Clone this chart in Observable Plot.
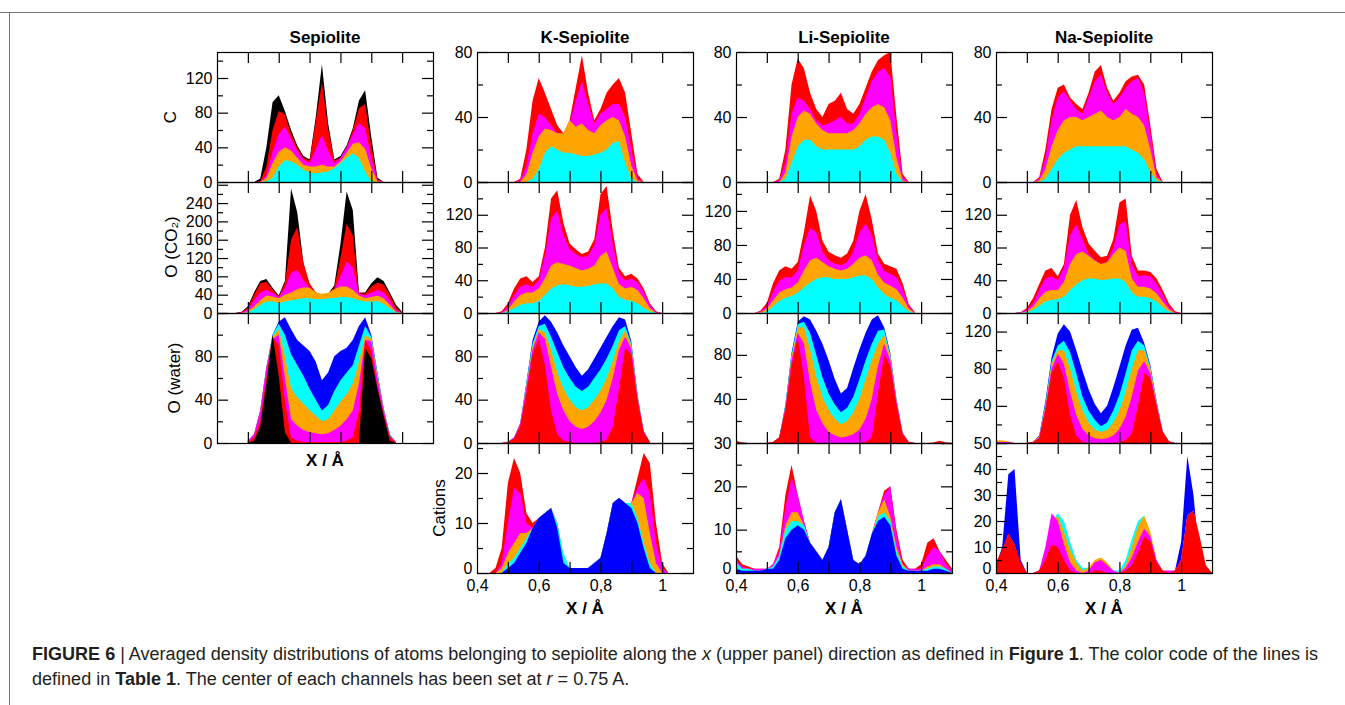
<!DOCTYPE html>
<html><head><meta charset="utf-8">
<script src="https://cdn.jsdelivr.net/npm/d3@7"></script>
<script src="https://cdn.jsdelivr.net/npm/@observablehq/plot@0.6"></script>
<style>
body{margin:0;background:#fff;font-family:"Liberation Sans",Arial,Helvetica,sans-serif;}
#fig{position:relative;width:1345px;height:705px;overflow:hidden;background:#fff;}
.t{position:absolute;white-space:nowrap;color:#000;}
.title{font-weight:bold;font-size:17px;transform:translate(-50%,-50%);}
.ylab{font-size:17px;transform:translate(-50%,-50%) rotate(-90deg);}
.xlab{font-weight:bold;font-size:17px;transform:translate(-50%,-50%);}
.cap{position:absolute;white-space:nowrap;font-size:18px;color:#231f20;transform-origin:0 50%;font-family:"Liberation Sans Narrow","Liberation Sans",Arial,sans-serif;}
#frameTop{position:absolute;left:0;top:12px;width:1345px;height:0;border-top:1px solid #777;}
#frameLeft{position:absolute;left:9px;top:12px;width:0;height:700px;border-left:1px solid #777;}
</style></head><body><div id="fig"><div id="frameTop"></div><div id="frameLeft"></div></div>
<script>
// ---------- shared grid and labels ----------
const xs = [0.40,0.42,0.44,0.46,0.48,0.50,0.52,0.54,0.56,0.58,0.60,0.62,0.64,0.66,0.68,0.70,0.72,0.74,0.76,0.78,0.80,0.82,0.84,0.86,0.88,0.90,0.92,0.94,0.96,0.98,1.00,1.02,1.04,1.06,1.08,1.10];
const colors = {black:"#000000", red:"#ff0000", magenta:"#ff00ff", orange:"#ffa500", cyan:"#00ffff", blue:"#0000ff"};
const columnTitles = ["Sepiolite","K-Sepiolite","Li-Sepiolite","Na-Sepiolite"];
const rowLabels = ["C","O (CO\u2082)","O (water)","Cations"];
const xTicks = [0.4,0.6,0.8,1.0];
const xTickLabels = ["0,4","0,6","0,8","1"];
const xMinorTicks = [0.5,0.6,0.7,0.8,0.9,1.0];
const xTitle = "X / \u00c5";

// ---------- Sepiolite ----------
// C, values from x = 0.52
const sepC_black   = [0,4,40,92,100,82,60,42,30,26,75,136,68,26,30,42,62,94,106,52,5,0];
const sepC_red     = [0,1,18,60,82,78,56,40,28,25,70,115,62,25,28,40,60,85,90,42,3,0];
const sepC_magenta = [0,0,8,35,55,64,50,36,26,22,38,54,36,22,28,40,55,68,62,28,2,0];
const sepC_orange  = [0,0,5,22,35,40,36,28,20,18,18,20,18,18,24,34,44,46,38,16,1,0];
const sepC_cyan    = [0,0,1,5,18,25,24,20,14,11,10,11,12,16,22,28,33,28,12,1,0,0];
// O (CO2), values from x = 0.46
const sepO_black   = [0,3,15,45,70,74,55,38,70,272,220,110,55,45,40,42,60,150,265,225,45,45,65,78,70,45,18,2];
const sepO_red     = [0,2,12,40,65,68,52,36,66,160,188,110,65,45,40,42,55,120,195,170,44,42,58,66,62,40,12,0];
const sepO_magenta = [0,1,8,28,45,50,44,35,55,88,94,72,55,42,40,42,50,80,112,100,42,38,45,50,45,28,6,0];
const sepO_orange  = [0,0,4,15,28,38,36,32,40,45,52,56,55,45,42,44,52,58,58,50,38,32,35,38,32,18,3,0];
const sepO_cyan    = [0,0,1,8,18,25,25,22,25,28,30,32,32,30,30,32,33,35,35,32,28,25,25,26,20,10,1,0];
// O (water), values from x = 0.50
const sepW_blue    = [2,8,30,70,100,112,116,105,95,90,85,75,58,65,80,85,88,95,108,116,100,65,32,8,1];
const sepW_cyan    = [2,8,30,70,100,110,100,82,72,62,50,40,30,35,48,58,65,72,90,108,98,64,32,8,1];
const sepW_orange  = [2,8,30,70,98,105,80,50,42,36,30,25,20,22,30,38,45,55,75,100,96,62,31,7,1];
const sepW_magenta = [2,8,30,70,96,100,60,22,16,12,10,9,8,9,12,16,22,30,55,95,94,60,31,7,1];
const sepW_red     = [1,5,20,60,98,90,40,5,2,1,1,1,1,1,1,1,2,5,30,95,85,52,27,6,0];
const sepW_black   = [0,2,15,55,100,62,10,0,0,0,0,0,0,0,0,0,0,0,0,88,78,50,25,2,0];

// ---------- K-Sepiolite ----------
// C, from x = 0.52
const kC_red     = [0,2,20,50,64,55,45,35,30,38,58,78,55,38,45,55,60,64,55,30,5,0];
const kC_magenta = [0,1,10,30,42,40,35,30,30,36,50,62,48,36,42,45,48,48,40,20,2,0];
const kC_orange  = [0,0,5,18,28,33,32,30,30,38,34,36,32,30,35,38,40,38,28,10,1,0];
const kC_cyan    = [0,0,0,2,8,18,22,20,18,18,17,16,16,17,18,20,24,25,12,2,0,0];
// O (CO2), from x = 0.46
const kO_red     = [0,2,12,30,42,45,38,45,80,140,150,110,85,78,72,75,90,145,155,100,55,45,48,42,30,12,2,0];
const kO_magenta = [0,1,8,22,32,35,32,40,70,115,125,95,78,72,68,70,82,120,128,85,48,40,42,38,26,10,1,0];
const kO_orange  = [0,0,4,14,22,25,25,30,42,58,62,60,58,55,52,54,58,70,75,55,35,30,32,28,18,6,0,0];
const kO_cyan    = [0,0,2,6,10,12,12,15,22,30,34,35,34,32,32,33,35,36,36,30,20,16,15,12,6,2,0,0];
// O (water), from x = 0.48
const kW_blue    = [0,1,5,18,56,95,112,118,112,102,90,80,70,62,68,78,88,98,108,116,114,94,45,11,1];
const kW_cyan    = [0,1,5,18,55,92,108,110,98,84,70,60,52,48,52,60,68,78,90,104,108,92,44,11,1];
const kW_orange  = [0,1,5,18,53,89,105,102,86,65,50,40,33,30,33,40,48,60,76,94,104,90,43,11,1];
const kW_magenta = [0,1,5,18,51,86,102,96,70,45,30,20,15,13,15,20,28,40,60,86,98,87,42,11,1];
const kW_red     = [0,1,4,15,46,82,96,72,30,8,2,1,0,0,0,0,1,3,15,50,88,82,40,10,1];
// Cations, from x = 0.44
const kK_red     = [0,1,5,18,23,20,12,10,11,12,13,10,3,1,1,1,1,2,3,8,14,15,14,14,19,24,22,10,2,0];
const kK_magenta = [0,0,2,10,17,16,10,9,11,12,13,10,3,1,1,1,1,2,3,8,14,15,14,14,17,19,16,6,1,0];
const kK_orange  = [0,0,1,4,6,8,8,9,11,12,13,10,3,1,1,1,1,2,3,8,14,15,14,14,16,15,8,2,0,0];
const kK_cyan    = [0,0,0,2,3,5,7,9,11,12,13,10,4,1,1,1,1,2,3,8,14,15,14,14,11,6,2,0,0,0];
const kK_blue    = [0,0,0,1,2,4,6,9,11,12,13,9,2,1,1,1,1,2,3,8,14,15,14,13,10,5,1,0,0,0];

// ---------- Li-Sepiolite ----------
// C, from x = 0.52
const liC_red     = [0,2,20,60,76,70,55,45,40,48,50,55,45,42,48,58,68,75,78,80,40,5,0];
const liC_magenta = [0,1,12,42,52,50,45,38,35,36,38,40,36,36,42,52,62,68,70,65,30,3,0];
const liC_orange  = [0,0,6,28,40,44,42,36,32,30,30,30,30,32,36,42,46,48,46,38,15,1,0];
const liC_cyan    = [0,0,2,12,22,26,26,22,20,20,20,20,20,20,22,26,28,28,26,18,5,0,0];
// O (CO2), from x = 0.46
const liO_red     = [0,3,12,35,50,55,52,60,95,138,120,85,72,68,65,70,85,120,140,110,70,58,55,52,35,10,1];
const liO_magenta = [0,2,8,25,38,42,42,50,80,100,95,72,62,58,56,60,72,95,105,92,62,50,46,42,28,8,0];
const liO_orange  = [0,1,5,15,24,28,30,36,50,62,65,60,55,52,50,52,58,65,68,62,45,36,32,28,18,5,0];
const liO_cyan    = [0,0,2,8,14,18,20,24,30,36,40,42,42,40,40,40,42,44,44,40,30,22,18,15,8,2,0];
// O (water): red from x = 0.40, others from x = 0.50
const liW_red     = [2,0.5,0,0,0,0,1,5,30,70,96,60,5,0,0,0,0,0,0,0,0,1,5,45,80,70,35,8,1,0,0,0,0.5,2,0.5,0];
const liW_magenta = [0,1,5,32,75,100,90,55,30,18,10,7,5,6,8,12,22,40,70,90,75,38,9,1,0];
const liW_orange  = [0,1,5,33,78,105,105,85,60,42,30,22,17,20,28,40,58,75,90,98,78,39,9,1,0];
const liW_cyan    = [0,1,5,34,80,108,110,100,80,60,45,35,28,32,42,58,75,90,102,103,80,40,9,1,0];
const liW_blue    = [0,1,5,35,82,110,115,112,102,90,75,58,45,50,68,85,100,112,116,105,82,40,9,1,0];
// Cations, from x = 0.40
const liK_red     = [4,2,1.5,1,1,1,2,6,18,25,18,12,7,5,3,6,14,17,10,3,2,4,9,14,19,20,10,3,1,1,2,7,8,5,3,1];
const liK_magenta = [3,1.5,1,1,1,1,2,5,15,22,18,12,7,5,3,6,14,17,10,3,2,4,9,14,18,20,9,2,1,1,1,4,6,5,2,0.5];
const liK_orange  = [2,1,1,0.5,0.5,1,1.5,4,11,14,14,11,7,5,3,6,14,17,10,3,2,4,9,14,17,13,6,2,0.5,0.5,0.5,1.5,2,2,1,0];
const liK_cyan    = [2.5,1,1,0.5,0.5,1,1.5,4,10,12,12,11,7,5,3,6,14,17,10,3,2,4,9,13,14,12,5,1.5,0.5,0.5,0.5,1,1.5,1.5,1,0];
const liK_blue    = [1,0.5,0.5,0.5,0.5,1,1,3,8,10,11,10,7,5,3,6,14,17,10,3,2,4,9,12,13,11,4,1,0.5,0.5,0.5,0.5,1,1,0.5,0];

// ---------- Na-Sepiolite ----------
// C, from x = 0.52
const naC_red     = [0,3,20,45,58,60,52,48,45,55,68,72,58,50,55,62,65,66,60,35,8,0];
const naC_magenta = [0,2,15,38,52,56,50,45,42,52,62,66,55,48,52,58,62,64,55,30,5,0];
const naC_orange  = [0,1,8,22,32,38,40,40,38,40,42,44,40,38,40,45,42,40,35,20,3,0];
const naC_cyan    = [0,0,2,8,14,18,20,22,22,22,22,22,22,22,22,22,20,18,14,6,1,0];
// O (CO2), from x = 0.46
const naO_red     = [0,1,6,18,35,52,55,45,60,120,138,105,85,76,68,70,90,135,140,70,52,52,50,42,28,12,2,0];
const naO_magenta = [0,1,4,12,28,42,45,40,55,95,108,90,72,65,60,62,80,108,112,60,45,46,45,36,22,8,1,0];
const naO_orange  = [0,0,2,8,18,26,28,28,38,60,72,75,70,64,60,62,72,80,76,42,32,32,30,24,14,5,0,0];
const naO_cyan    = [0,0,1,4,9,14,16,17,20,28,35,40,42,42,40,41,42,42,38,25,20,20,18,14,7,2,0,0];
// O (water), from x = 0.40
const naW_blue    = [0,0,0,0,0,0,1,8,45,92,118,128,120,100,78,58,42,32,40,60,82,105,122,124,108,84,46,13,2,0];
const naW_cyan    = [2,2,1,0,0,0,1,7,42,88,105,110,98,75,50,35,25,18,22,35,52,75,100,110,105,82,45,13,2,0];
const naW_orange  = [3,3,2,0,0,0,1,7,40,85,100,100,80,55,35,22,14,12,14,22,35,55,80,100,100,80,44,13,2,0];
const naW_magenta = [1,1,1,0,0,0,1,6,38,80,96,85,55,30,15,8,5,4,5,8,15,28,50,78,88,75,42,12,2,0];
const naW_red     = [0,0,0,0,0,0,1,5,35,75,88,70,30,8,1,0,0,0,0,0,1,3,10,40,75,70,40,12,2,0];
// Cations, from x = 0.40
const naK_blue    = [3,10,38,40,5,0,0,0,2,6,8,6,3,1,0,0,1,2,1,0,0,1,4,8,10,8,3,1,0,1,12,45,30,5,0,0];
const naK_cyan    = [3,8,15,11,2,0,0,1,8,20,23,20,12,5,2,2,4,5,3,1,1,5,13,20,22,14,4,1,0,1,5,22,24,12,2,0];
const naK_orange  = [3,8,15,11,2,0,0,1,8,20,22,16,9,4,1,2,5,6,4,1,0,3,10,18,22,16,5,1,0,1,5,22,24,12,2,0];
const naK_magenta = [3,8,15,11,2,0,0,1,10,23,20,11,4,1,0,1,4,5,3,1,0,2,6,12,17,14,5,1,1,1,5,22,24,12,2,0];
const naK_red     = [4,9,15,11,4,0,0,1,5,11,10,5,1,0,0,0,1,1,0,0,0,1,3,8,14,12,4,1,0,1,5,22,24,14,3,0];

// ---------- panel layout (back-to-front drawing order) ----------
const panels = [
  {c:0, r:0, y:[0,150], major:[0,40,80,120], minor:[20,60,100,140], labels:[0,40,80,120],
   series:[["black",0.52,sepC_black],["red",0.52,sepC_red],["magenta",0.52,sepC_magenta],["orange",0.52,sepC_orange],["cyan",0.52,sepC_cyan]]},
  {c:0, r:1, y:[0,286], major:[0,40,80,120,160,200,240,280], minor:[20,60,100,140,180,220,260], labels:[0,40,80,120,160,200,240],
   series:[["black",0.46,sepO_black],["red",0.46,sepO_red],["magenta",0.46,sepO_magenta],["orange",0.46,sepO_orange],["cyan",0.46,sepO_cyan]]},
  {c:0, r:2, y:[0,120], major:[0,40,80,120], minor:[20,60,100], labels:[0,40,80],
   series:[["blue",0.50,sepW_blue],["cyan",0.50,sepW_cyan],["orange",0.50,sepW_orange],["magenta",0.50,sepW_magenta],["red",0.50,sepW_red],["black",0.50,sepW_black]]},

  {c:1, r:0, y:[0,80], major:[0,40,80], minor:[20,60], labels:[0,40,80],
   series:[["red",0.52,kC_red],["magenta",0.52,kC_magenta],["orange",0.52,kC_orange],["cyan",0.52,kC_cyan]]},
  {c:1, r:1, y:[0,160], major:[0,40,80,120,160], minor:[20,60,100,140], labels:[0,40,80,120],
   series:[["red",0.46,kO_red],["magenta",0.46,kO_magenta],["orange",0.46,kO_orange],["cyan",0.46,kO_cyan]]},
  {c:1, r:2, y:[0,120], major:[0,40,80,120], minor:[20,60,100], labels:[0,40,80],
   series:[["blue",0.48,kW_blue],["cyan",0.48,kW_cyan],["orange",0.48,kW_orange],["magenta",0.48,kW_magenta],["red",0.48,kW_red]]},
  {c:1, r:3, y:[0,26], major:[0,10,20], minor:[5,15,25], labels:[0,10,20], xlab:true,
   series:[["red",0.44,kK_red],["magenta",0.44,kK_magenta],["orange",0.44,kK_orange],["cyan",0.44,kK_cyan],["blue",0.44,kK_blue]]},

  {c:2, r:0, y:[0,80], major:[0,40,80], minor:[20,60], labels:[0,40,80],
   series:[["red",0.52,liC_red],["magenta",0.52,liC_magenta],["orange",0.52,liC_orange],["cyan",0.52,liC_cyan]]},
  {c:2, r:1, y:[0,154], major:[0,40,80,120], minor:[20,60,100,140], labels:[0,40,80,120],
   series:[["red",0.46,liO_red],["magenta",0.46,liO_magenta],["orange",0.46,liO_orange],["cyan",0.46,liO_cyan]]},
  {c:2, r:2, y:[0,118], major:[0,40,80], minor:[20,60,100], labels:[40,80],
   series:[["blue",0.50,liW_blue],["cyan",0.50,liW_cyan],["orange",0.50,liW_orange],["magenta",0.50,liW_magenta],["red",0.40,liW_red]]},
  {c:2, r:3, y:[0,30], major:[0,10,20,30], minor:[5,15,25], labels:[0,10,20,30], xlab:true,
   series:[["red",0.40,liK_red],["magenta",0.40,liK_magenta],["orange",0.40,liK_orange],["cyan",0.40,liK_cyan],["blue",0.40,liK_blue]]},

  {c:3, r:0, y:[0,80], major:[0,40,80], minor:[20,60], labels:[0,40,80],
   series:[["red",0.52,naC_red],["magenta",0.52,naC_magenta],["orange",0.52,naC_orange],["cyan",0.52,naC_cyan]]},
  {c:3, r:1, y:[0,160], major:[0,40,80,120,160], minor:[20,60,100,140], labels:[0,40,80,120],
   series:[["red",0.46,naO_red],["magenta",0.46,naO_magenta],["orange",0.46,naO_orange],["cyan",0.46,naO_cyan]]},
  {c:3, r:2, y:[0,140], major:[0,40,80,120], minor:[20,60,100,140], labels:[40,80,120],
   series:[["blue",0.40,naW_blue],["cyan",0.40,naW_cyan],["orange",0.40,naW_orange],["magenta",0.40,naW_magenta],["red",0.40,naW_red]]},
  {c:3, r:3, y:[0,50], major:[0,10,20,30,40,50], minor:[5,15,25,35,45], labels:[0,10,20,30,40,50], xlab:true,
   series:[["blue",0.40,naK_blue],["cyan",0.40,naK_cyan],["orange",0.40,naK_orange],["magenta",0.40,naK_magenta],["red",0.40,naK_red]]}
];

function onGrid(start, vals) {
  const i0 = xs.findIndex(v => Math.abs(v - start) < 1e-9);
  return vals.map((y, i) => ({x: xs[i0 + i], y}));
}

const fig = document.getElementById("fig");
const ML = 50, MR = 20, MT = 12, MB = 34, W = 216;
const colLeft = [217, 477, 736, 996];
const rowTop = [52, 182, 313, 443];
const rowH = [130, 131, 130, 130];
const majorLen = 11, minorLen = 6;

for (const p of panels) {
  const H = rowH[p.r];
  const marks = [];
  for (const [name, start, vals] of p.series) {
    marks.push(Plot.areaY(onGrid(start, vals), {x: "x", y: "y", fill: colors[name], clip: true}));
  }
  marks.push(Plot.frame({stroke: "#000", strokeWidth: 1.2}));
  const sideTicks = (vals, len) => [
    Plot.ruleY(vals, {y: d => d, insetRight: W - len, stroke: "#000", strokeWidth: 1.2}),
    Plot.ruleY(vals, {y: d => d, insetLeft: W - len, stroke: "#000", strokeWidth: 1.2})
  ];
  marks.push(...sideTicks(p.major, majorLen), ...sideTicks(p.minor, minorLen));
  marks.push(Plot.ruleX(xMinorTicks, {x: d => d, insetBottom: H - majorLen, stroke: "#000", strokeWidth: 1.2}));
  marks.push(Plot.ruleX(xMinorTicks, {x: d => d, insetTop: H - majorLen, stroke: "#000", strokeWidth: 1.2}));
  const lab = p.xlab ? p.labels.filter(v => v !== 0) : p.labels;
  marks.push(Plot.axisY({ticks: lab, anchor: "left", tickSize: 0, tickPadding: 5, label: null, fontSize: 16, fill: "#000"}));
  if (p.xlab) {
    // the zero label sits just above the x tick labels, as in the reference
    marks.push(Plot.axisY({ticks: [0], anchor: "left", tickSize: 0, tickPadding: 5, label: null, fontSize: 16, fill: "#000", dy: -5}));
    marks.push(Plot.axisX({ticks: xTicks, anchor: "bottom", tickSize: 0, tickPadding: 6, label: null, fontSize: 16, fill: "#000",
      tickFormat: d => xTickLabels[xTicks.findIndex(t => Math.abs(t - d) < 1e-9)]}));
  }
  const svg = Plot.plot({
    width: ML + W + MR, height: MT + H + MB,
    marginLeft: ML, marginRight: MR, marginTop: MT, marginBottom: MB,
    x: {domain: [0.4, 1.1], axis: null},
    y: {domain: p.y, axis: null},
    style: {background: "transparent", overflow: "visible", fontFamily: "'Liberation Sans', Arial, sans-serif", fontSize: "16px", color: "#000"},
    marks
  });
  svg.style.position = "absolute";
  svg.style.left = (colLeft[p.c] - ML) + "px";
  svg.style.top = (rowTop[p.r] - MT) + "px";
  svg.style.maxWidth = "none";
  fig.appendChild(svg);
}

function addText(cls, txt, x, y) {
  const d = document.createElement("div");
  d.className = "t " + cls;
  d.textContent = txt;
  d.style.left = x + "px";
  d.style.top = y + "px";
  fig.appendChild(d);
  return d;
}
const colCenter = colLeft.map(l => l + W / 2);
columnTitles.forEach((t, i) => addText("title", t, colCenter[i], 38));
addText("ylab", rowLabels[0], 171, 117);
addText("ylab", rowLabels[1], 172, 247);
addText("ylab", rowLabels[2], 175, 378);
addText("ylab", rowLabels[3], 440, 508);
addText("xlab", xTitle, colCenter[0], 461);
addText("xlab", xTitle, colCenter[1], 609);
addText("xlab", xTitle, colCenter[2], 609);
addText("xlab", xTitle, colCenter[3], 609);

const cap1 = document.createElement("div");
cap1.className = "cap";
cap1.innerHTML = '<b>FIGURE 6</b> | Averaged density distributions of atoms belonging to sepiolite along the <i>x</i> (upper panel) direction as defined in <b>Figure 1</b>. The color code of the lines is';
cap1.style.left = "32px"; cap1.style.top = "644px";
fig.appendChild(cap1);
const cap2 = document.createElement("div");
cap2.className = "cap";
cap2.innerHTML = 'defined in <b>Table 1</b>. The center of each channels has been set at <i>r</i> = 0.75 A.';
cap2.style.left = "32px"; cap2.style.top = "669px";
fig.appendChild(cap2);
const w1 = cap1.getBoundingClientRect().width;
const sc = 1286 / w1;
cap1.style.transform = `scaleX(${sc})`;
cap2.style.transform = `scaleX(${sc})`;
</script>
</body></html>
